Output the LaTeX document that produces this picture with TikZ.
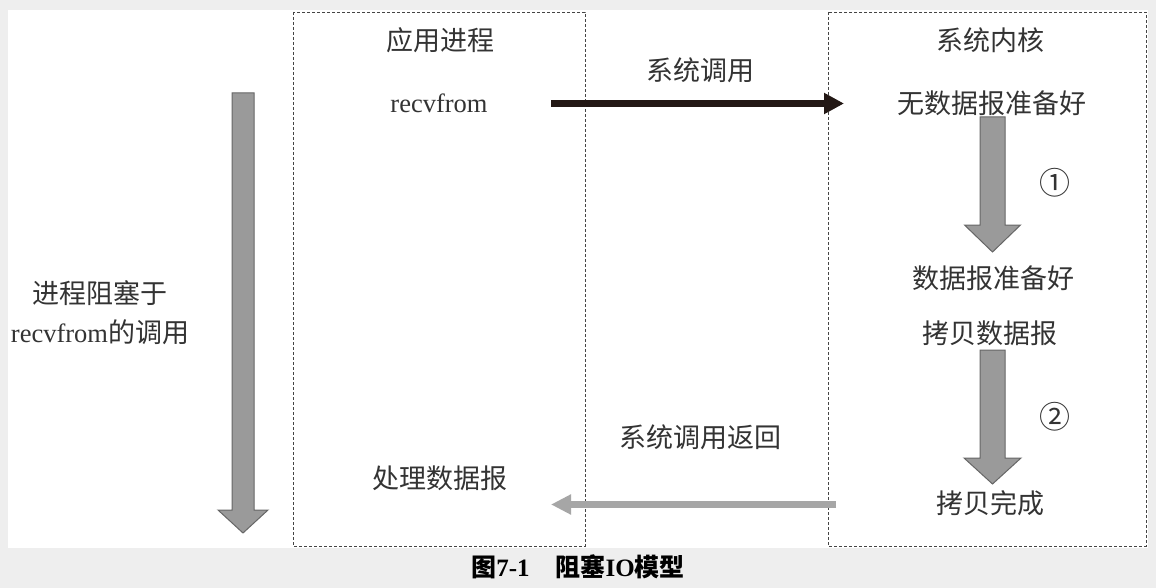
\documentclass[tikz,border=0pt]{standalone}
\usepackage{fontspec}
\setmainfont{Liberation Serif}
\newfontfamily\cjk{Noto Sans CJK SC}
\usetikzlibrary{arrows.meta}
\definecolor{pagegray}{HTML}{EEEEEE}
\definecolor{inkgray}{HTML}{333333}
\definecolor{boxline}{HTML}{444444}
\definecolor{blockfill}{HTML}{9A9A9A}
\definecolor{blockedge}{HTML}{666666}
\definecolor{returngray}{HTML}{A6A6A6}
\definecolor{callblack}{HTML}{231815}
\tikzset{
  label/.style={text=inkgray, inner sep=0pt, font=\fontsize{27}{32}\selectfont\cjk},
  latin/.style={text=inkgray, inner sep=0pt, font=\fontsize{26.5}{32}\selectfont},
  stepno/.style={text=inkgray, inner sep=0pt, font=\fontsize{31}{34}\selectfont\cjk},
  lane/.style={draw=boxline, line width=0.8pt, dash pattern=on 3pt off 2pt},
  block/.style={fill=blockfill, draw=blockedge, line width=1pt, line join=miter},
  callarrow/.style={draw=callblack, line width=6.5pt, -{Triangle[length=20pt,width=20pt]}},
  retarrow/.style={draw=returngray, line width=6.5pt, -{Triangle[length=20pt,width=19pt]}},
}
% block arrow pointing down: centre x, top y, head base y, tip y, shaft half width, head half width
\newcommand\blockdown[6]{%
  \path[block] (#1-#5,#2) -- (#1+#5,#2) -- (#1+#5,#3) -- (#1+#6,#3) -- (#1,#4)
    -- (#1-#6,#3) -- (#1-#5,#3) -- cycle;}
\begin{document}
\begin{tikzpicture}[x=1pt,y=-1pt]
  % page and panel
  \fill[pagegray] (0,0) rectangle (1156,588);
  \fill[white] (8,10) rectangle (1148,548);
  \useasboundingbox (0,0) rectangle (1156,588);

  % lanes
  \draw[lane] (293,12) rectangle (585,546);
  \draw[lane] (828,12) rectangle (1146,546);

  % headings
  \node[label] (app) at (440,40) {应用进程};
  \node[label] (kernel) at (990,40) {系统内核};

  % application side
  \node[latin] (recv) at (439,103) {recvfrom};
  \node[label] (handle) at (440,478) {处理数据报};

  % kernel side
  \node[label] (nodata) at (992,103) {无数据报准备好};
  \node[label] (ready) at (993,278) {数据报准备好};
  \node[label] (copy) at (990,333) {拷贝数据报};
  \node[label] (done) at (990,503) {拷贝完成};
  \node[stepno] (one) at (1055,183) {①};
  \node[stepno] (two) at (1055,417) {②};

  % blocking note
  \node[label] (block1) at (100,293) {进程阻塞于};
  \node[text=inkgray, inner sep=0pt] (block2) at (100,332)
    {\fontsize{26.5}{32}\selectfont recvfrom\cjk\fontsize{27}{32}\selectfont 的调用};

  % system call and return
  \node[label] (call) at (700,70) {系统调用};
  \node[label] (ret) at (700,437) {系统调用返回};
  \coordinate (callstart) at (551,103.5);
  \coordinate (callend) at (844,103.5);
  \draw[callarrow] (callstart) -- (callend);
  \coordinate (retstart) at (836,504.5);
  \coordinate (retend) at (551,504.5);
  \draw[retarrow] (retstart) -- (retend);

  % block arrows
  \blockdown{243}{93}{510}{533}{11}{25}
  \blockdown{992.5}{117}{225}{252}{12.5}{28}
  \blockdown{992.5}{350}{458}{484}{12.5}{28.5}

  % caption
  \node[text=black, inner sep=0pt, font=\fontsize{25}{30}\selectfont\bfseries] (caption) at (578,567)
    {{\cjk 图}7-1\hspace{26pt}{\cjk 阻塞}IO{\cjk 模型}};
\end{tikzpicture}
\end{document}
